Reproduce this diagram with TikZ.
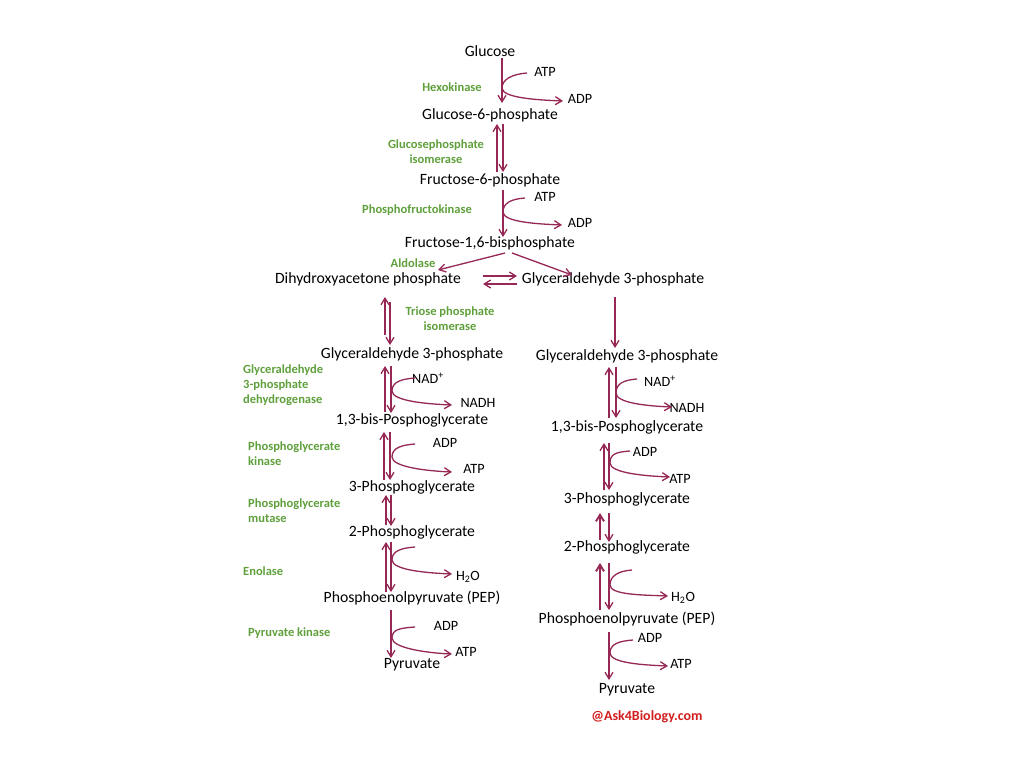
\documentclass[tikz,border=0pt]{standalone}
\usepackage{fontspec}
\setmainfont{Carlito}
\usetikzlibrary{arrows.meta,calc}
\definecolor{arr}{RGB}{150,40,85}
\definecolor{enz}{RGB}{95,160,60}
\definecolor{wmc}{RGB}{210,30,30}
\newcommand\sidearc[3]{\draw[rx] #1 .. controls +(-14,1) and +(0,-9) .. #2 .. controls +(0,10) and +(-25,-1) .. #3;}
\begin{document}
\begin{tikzpicture}[x=1pt,y=-1pt,
  mt/.style={font=\fontsize{15.7}{18}\selectfont, inner sep=0pt},
  sm/.style={font=\fontsize{14.2}{16}\selectfont, inner sep=0pt},
  en/.style={font=\fontsize{12.5}{15}\selectfont\bfseries, text=enz, inner sep=0pt, align=center},
  enl/.style={en, anchor=west, align=left},
  rx/.style={draw=arr, line width=1.3pt, -{Straight Barb[length=6.5pt,width=8pt]}},
  rxb/.style={rx, line width=1.9pt}]
\useasboundingbox[fill=white] (0,0) rectangle (1024,768);
% nodes
\node[mt] (glc) at (490,51) {Glucose};
\node[sm] (atp1) at (545,72) {ATP};
\node[en] (hex) at (452,87) {Hexokinase};
\node[sm] (adp1) at (580,99) {ADP};
\node[mt] (g6p) at (490,115) {Glucose-6-phosphate};
\node[en] (gpi) at (436,152) {Glucosephosphate\\isomerase};
\node[mt] (f6p) at (490,180) {Fructose-6-phosphate};
\node[sm] (atp2) at (545,197) {ATP};
\node[en] (pfk) at (417,210) {Phosphofructokinase};
\node[sm] (adp2) at (580,223) {ADP};
\node[mt] (fbp) at (490,243) {Fructose-1,6-bisphosphate};
\node[en] (ald) at (413,263) {Aldolase};
\node[mt] (dhap) at (368,279) {Dihydroxyacetone phosphate};
\node[mt] (gapA) at (613,279) {Glyceraldehyde 3-phosphate};
\node[en] (tpi) at (450,319) {Triose phosphate\\isomerase};
\node[mt] (gapL) at (412,354) {Glyceraldehyde 3-phosphate};
\node[mt] (gapR) at (627,356) {Glyceraldehyde 3-phosphate};
\node[enl] (gapdh) at (243,385) {Glyceraldehyde\\3-phosphate\\dehydrogenase};
\node[sm] (nadL) at (428,378) {NAD\textsuperscript{+}};
\node[sm] (nadhL) at (478,403) {NADH};
\node[mt] (bpgL) at (412,420) {1,3-bis-Posphoglycerate};
\node[sm] (nadR) at (660,381) {NAD\textsuperscript{+}};
\node[sm] (nadhR) at (687,408) {NADH};
\node[mt] (bpgR) at (627,427) {1,3-bis-Posphoglycerate};
\node[enl] (pgk) at (248,454) {Phosphoglycerate\\kinase};
\node[sm] (adpL) at (445,443) {ADP};
\node[sm] (atpL) at (474,469) {ATP};
\node[mt] (pg3L) at (412,487) {3-Phosphoglycerate};
\node[sm] (adpR) at (645,452) {ADP};
\node[sm] (atpR) at (680,479) {ATP};
\node[mt] (pg3R) at (627,499) {3-Phosphoglycerate};
\node[enl] (pgm) at (248,511) {Phosphoglycerate\\mutase};
\node[mt] (pg2L) at (412,532) {2-Phosphoglycerate};
\node[mt] (pg2R) at (627,547) {2-Phosphoglycerate};
\node[enl] (eno) at (243,571) {Enolase};
\node[sm] (h2oL) at (468,577) {H\textsubscript{2}O};
\node[mt] (pepL) at (412,598) {Phosphoenolpyruvate (PEP)};
\node[sm] (h2oR) at (683,598) {H\textsubscript{2}O};
\node[mt] (pepR) at (627,619) {Phosphoenolpyruvate (PEP)};
\node[enl] (pk) at (248,633) {Pyruvate kinase};
\node[sm] (adpL2) at (446,626) {ADP};
\node[sm] (atpL2) at (466,652) {ATP};
\node[mt] (pyrL) at (412,665) {Pyruvate};
\node[sm] (adpR2) at (650,638) {ADP};
\node[sm] (atpR2) at (681,664) {ATP};
\node[mt] (pyrR) at (627,690) {Pyruvate};
\node[font=\fontsize{14}{16}\selectfont\bfseries, text=wmc, inner sep=0pt] (wm) at (647,717) {@Ask4Biology.com};
% top
\draw[rx] ($(glc)+(12,7)$) -- ($(g6p)+(12,-12)$);
\sidearc{($(atp1)+(-18,1)$)}{($(glc)+(12,37)$)}{($(adp1)+(-17,2)$)}
\draw[rx] ($(f6p)+(7,-8)$) -- ($(g6p)+(7,9)$);
\draw[rx] ($(g6p)+(13,9)$) -- ($(f6p)+(13,-8)$);
\draw[rx] ($(f6p)+(13,10)$) -- ($(fbp)+(13,-6)$);
\sidearc{($(atp2)+(-20,1)$)}{($(f6p)+(13,32)$)}{($(adp2)+(-18,2)$)}
\draw[rx] ($(fbp)+(15,10)$) -- ($(dhap)+(70,-9)$);
\draw[rx] ($(fbp)+(22,10)$) -- ($(gapA)+(-41,-4)$);
\draw[rx] ($(dhap)+(115,-3)$) -- ($(dhap)+(149,-3)$);
\draw[rx] ($(dhap)+(149,5)$) -- ($(dhap)+(115,5)$);
% left column
\draw[rx] ($(gapL)+(-27,-19)$) -- ($(dhap)+(17,18)$);
\draw[rx] ($(dhap)+(22,23)$) -- ($(gapL)+(-22,-9)$);
\draw[rx] ($(bpgL)+(-27,-8)$) -- ($(gapL)+(-27,12)$);
\draw[rx] ($(gapL)+(-21,12)$) -- ($(bpgL)+(-21,-7)$);
\sidearc{($(nadL)+(-13,0)$)}{($(gapL)+(-20,37)$)}{($(nadhL)+(-26,2)$)}
\draw[rx] ($(pg3L)+(-28,-7)$) -- ($(bpgL)+(-28,12)$);
\draw[rx] ($(bpgL)+(-22,12)$) -- ($(pg3L)+(-22,-7)$);
\sidearc{($(adpL)+(-30,1)$)}{($(bpgL)+(-20,37)$)}{($(atpL)+(-22,3)$)}
\draw[rx] ($(pg2L)+(-26,-7)$) -- ($(pg3L)+(-26,8)$);
\draw[rx] ($(pg3L)+(-21,8)$) -- ($(pg2L)+(-21,-6)$);
\draw[rx] ($(pepL)+(-26,-6)$) -- ($(pg2L)+(-26,10)$);
\draw[rx] ($(pg2L)+(-21,10)$) -- ($(pepL)+(-21,-6)$);
\sidearc{($(h2oL)+(-53,-30)$)}{($(pg2L)+(-20,28)$)}{($(h2oL)+(-16,-3)$)}
\draw[rx] ($(pepL)+(-21,12)$) -- ($(pyrL)+(-21,-7)$);
\sidearc{($(adpL2)+(-31,1)$)}{($(pepL)+(-20,40)$)}{($(atpL2)+(-14,2)$)}
% right column
\draw[rx] ($(gapA)+(2,18)$) -- ($(gapR)+(-12,-8)$);
\draw[rx] ($(bpgR)+(-18,-9)$) -- ($(gapR)+(-18,11)$);
\draw[rx] ($(gapR)+(-11,11)$) -- ($(bpgR)+(-11,-9)$);
\sidearc{($(nadR)+(-23,-2)$)}{($(gapR)+(-11,37)$)}{($(nadhR)+(-15,-1)$)}
\draw[rx] ($(pg3R)+(-23,-9)$) -- ($(bpgR)+(-23,16)$);
\draw[rx] ($(bpgR)+(-18,16)$) -- ($(pg3R)+(-18,-9)$);
\sidearc{($(adpR)+(-15,-1)$)}{($(bpgR)+(-17,36)$)}{($(atpR)+(-10,-2)$)}
\draw[rxb] ($(pg2R)+(-27,-7)$) -- ($(pg3R)+(-27,14)$);
\draw[rx] ($(pg3R)+(-18,14)$) -- ($(pg2R)+(-18,-5)$);
\draw[rxb] ($(pepR)+(-27,-9)$) -- ($(pg2R)+(-27,16)$);
\draw[rx] ($(pg2R)+(-18,16)$) -- ($(pepR)+(-18,-9)$);
\sidearc{($(h2oR)+(-51,-28)$)}{($(pg2R)+(-17,38)$)}{($(h2oR)+(-15,-2)$)}
\draw[rx] ($(pepR)+(-18,13)$) -- ($(pyrR)+(-18,-10)$);
\sidearc{($(adpR2)+(-17,2)$)}{($(pepR)+(-17,34)$)}{($(atpR2)+(-13,2)$)}
\end{tikzpicture}
\end{document}
